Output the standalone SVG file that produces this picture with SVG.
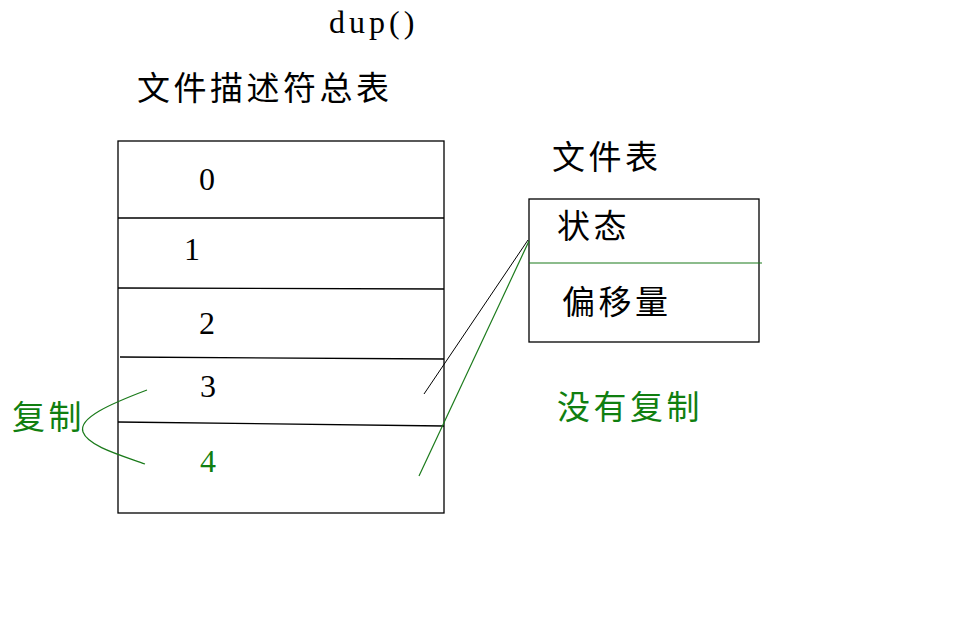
<svg xmlns="http://www.w3.org/2000/svg" width="962" height="620" viewBox="0 0 962 620">
<style>
.cjk{font-family:"Noto Sans CJK SC","Liberation Sans",sans-serif;font-size:33px;letter-spacing:3.5px}
.num{font-family:"Liberation Serif",serif;font-size:32px}
.blk{fill:#000}
.grn{fill:#107f10}
.ln{stroke:#000;stroke-width:1.3;fill:none}
.gl{stroke:#1a7a1a;stroke-width:1.2;fill:none}
</style>
<rect width="962" height="620" fill="#fff"/>
<text x="329" y="33" class="num blk" letter-spacing="4">dup()</text>
<text x="137" y="100" class="cjk blk">文件描述符总表</text>
<g id="fd-table">
<rect x="118" y="141" width="326" height="372" class="ln"/>
<line x1="118" y1="218" x2="444" y2="218" class="ln"/>
<line x1="118" y1="288" x2="444" y2="289" class="ln"/>
<line x1="120" y1="357" x2="444" y2="359" class="ln"/>
<line x1="118" y1="422" x2="444" y2="426" class="ln"/>
<text x="199" y="190" class="num blk">0</text>
<text x="184" y="260" class="num blk">1</text>
<text x="199" y="334" class="num blk">2</text>
<text x="200" y="397" class="num blk">3</text>
<text x="200" y="472" class="num grn">4</text>
</g>
<text x="552" y="169" class="cjk blk">文件表</text>
<g id="file-table">
<rect x="529" y="199" width="230" height="143" class="ln"/>
<line x1="529" y1="263" x2="762" y2="263" class="gl"/>
<text x="557" y="238" class="cjk blk">状态</text>
<text x="562" y="314" class="cjk blk">偏移量</text>
</g>
<text x="557" y="419" class="cjk grn">没有复制</text>
<text x="12" y="429" class="cjk grn">复制</text>
<g id="connectors">
<line x1="528" y1="240" x2="424" y2="394" stroke="#000" stroke-width="1"/>
<line x1="529" y1="241" x2="419" y2="476" class="gl"/>
<path d="M147,390 C110,404 78,418 83,432 C88,446 120,455 145,464" class="gl"/>
</g>
</svg>
